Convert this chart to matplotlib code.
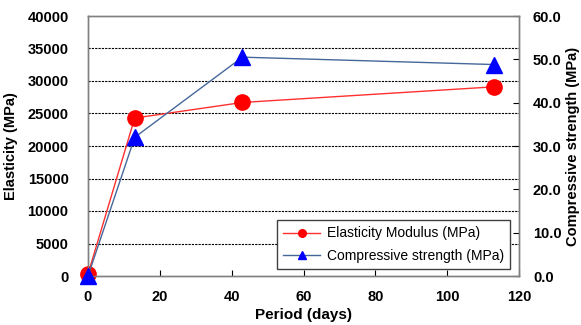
import matplotlib.pyplot as plt

plt.rcParams['font.family'] = ['Liberation Sans', 'DejaVu Sans']

# data
period = [0, 13, 43, 113]
elasticity = [300, 24300, 26700, 29100]
compressive = [0.0, 32.0, 50.5, 48.8]

y_ticks = [0, 5000, 10000, 15000, 20000, 25000, 30000, 35000, 40000]
y2_ticks = [0, 10, 20, 30, 40, 50, 60]
x_ticks = [0, 20, 40, 60, 80, 100, 120]

fig = plt.figure(figsize=(5.81, 3.25), dpi=100)
ax = fig.add_axes([88 / 581, 1 - 276 / 325, (519 - 88) / 581, (276 - 16) / 325])
ax2 = ax.twinx()

# grid lines
for v in y_ticks[1:-1]:
    ax.axhline(v, color='black', linestyle=(0, (2, 1)), linewidth=0.8, zorder=0)

l1, = ax.plot(period, elasticity, color='#ff3030', linewidth=1.0, marker='o',
              markersize=11, markerfacecolor='red', markeredgecolor='red',
              label='Elasticity Modulus (MPa)', clip_on=False, zorder=3)
l2, = ax2.plot(period, compressive, color='#45689a', linewidth=1.0, marker='^',
               markersize=12, markerfacecolor='blue', markeredgecolor='blue',
               label='Compressive strength (MPa)', clip_on=False, zorder=3)

ax.set_xlim(0, 120)
ax.set_ylim(0, 40000)
ax2.set_ylim(0, 60)
ax.set_xticks(x_ticks)
ax.set_yticks(y_ticks)
ax2.set_yticks(y2_ticks)
ax2.set_yticklabels([f'{v:.1f}' for v in y2_ticks])

for a in (ax, ax2):
    for s in a.spines.values():
        s.set_color('#808080')
        s.set_linewidth(1.0)
    for lab in a.get_xticklabels() + a.get_yticklabels():
        lab.set_fontweight('bold')
        lab.set_fontsize(10.5)

ax.tick_params(axis='x', direction='in', length=4, color='black', pad=10)
ax.tick_params(axis='y', length=0, pad=14)
ax2.tick_params(axis='y', direction='in', length=4, color='black', pad=10)

ax.set_xlabel('Period (days)', fontsize=11, fontweight='bold')
ax.set_ylabel('Elasticity (MPa)', fontsize=10.5, fontweight='bold')
ax2.set_ylabel('Compressive strength (MPa)', fontsize=10.5, fontweight='bold')
ax.xaxis.set_label_coords(0.5, -0.125)
ax.yaxis.set_label_coords(-0.162, 0.5)
ax2.yaxis.set_label_coords(1.11, 0.5)

leg = ax.legend(handles=[l1, l2], loc='lower right', bbox_to_anchor=(0.995, 0.0),
                fontsize=10, frameon=True, fancybox=False, framealpha=1,
                edgecolor='#404040', markerscale=0.5, handlelength=2.6,
                handletextpad=0.5, borderpad=0.45, labelspacing=0.6)
leg.get_frame().set_linewidth(1.0)

fig.savefig('out.png', dpi=100)
